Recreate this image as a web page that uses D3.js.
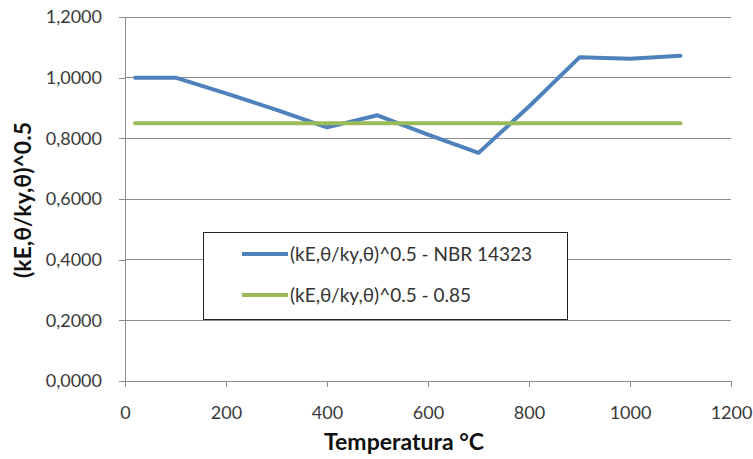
<!DOCTYPE html>
<html><head><meta charset="utf-8">
<script src="https://cdn.jsdelivr.net/npm/d3@7"></script>
<style>body{margin:0;background:#fff}svg{display:block}</style>
</head><body><svg id="c" width="753" height="459"></svg>
<script>
const temps = [20, 100, 200, 300, 400, 500, 600, 700, 800, 900, 1000, 1100];
const nbrValues = [1.0, 1.0, 0.948, 0.894, 0.836, 0.876, 0.812, 0.752, 0.905, 1.067, 1.062, 1.072];
const constValues = [0.85, 0.85, 0.85, 0.85, 0.85, 0.85, 0.85, 0.85, 0.85, 0.85, 0.85, 0.85];
const seriesNames = ["(kE,θ/ky,θ)^0.5 - NBR 14323", "(kE,θ/ky,θ)^0.5 - 0.85"];
const xTicks = [0, 200, 400, 600, 800, 1000, 1200];
const yTicks = [0, 0.2, 0.4, 0.6, 0.8, 1.0, 1.2];
const colors = ["#4F81BD", "#9BBB59"];

const svg = d3.select("#c");
const font = "Lato, 'Open Sans', sans-serif";
const x = d3.scaleLinear().domain([0, 1200]).range([125, 731]);
const y = d3.scaleLinear().domain([0, 1.2]).range([381, 17]);
const fmt = v => d3.format(".4f")(v).replace(".", ",");

// gridlines
svg.append("g").selectAll("line").data(yTicks.filter(d => d > 0)).join("line")
  .attr("x1", x(0)).attr("x2", x(1200)).attr("y1", d => y(d)).attr("y2", d => y(d))
  .attr("stroke", "#8c8c8c").attr("stroke-width", 1).attr("shape-rendering", "crispEdges");

const gy = svg.append("g").attr("transform", `translate(${x(0)},0)`)
  .call(d3.axisLeft(y).tickValues(yTicks).tickFormat(fmt).tickSize(6).tickPadding(17));
const gx = svg.append("g").attr("transform", `translate(0,${y(0)})`)
  .call(d3.axisBottom(x).tickValues(xTicks).tickFormat(d3.format("d")).tickSize(6).tickPadding(19));
[gx, gy].forEach(g => {
  g.selectAll("path,line").attr("stroke", "#8c8c8c").attr("shape-rendering", "crispEdges");
  g.selectAll("text").attr("fill", "#3a3a3a").style("font-family", font).style("font-size", "18px");
});
gy.select(".domain").attr("d", `M-6,${y(1.2)}H0V${y(0)}H-6`);
gx.select(".domain").attr("d", `M${x(0)},6V0H${x(1200)}V6`);

const line = d3.line().x((d, i) => x(temps[i])).y(d => y(d));
[nbrValues, constValues].forEach((vals, i) => {
  svg.append("path").datum(vals).attr("d", line).attr("fill", "none")
    .attr("stroke", colors[i]).attr("stroke-width", 4).attr("stroke-linejoin", "round").attr("stroke-linecap", "round");
});

// axis titles
svg.append("text").attr("x", 404).attr("y", 450).attr("text-anchor", "middle")
  .style("font-family", font).style("font-weight", "bold").style("font-size", "23px").attr("fill", "#111")
  .text("Temperatura °C");
svg.append("text").attr("transform", `translate(31,200) rotate(-90)`).attr("text-anchor", "middle")
  .style("font-family", font).style("font-weight", "bold").style("font-size", "23px").attr("fill", "#111")
  .text("(kE,θ/ky,θ)^0.5");

// legend
const lg = svg.append("g");
lg.append("rect").attr("x", 203.5).attr("y", 232.5).attr("width", 364).attr("height", 87)
  .attr("fill", "#fff").attr("stroke", "#222").attr("stroke-width", 1);
seriesNames.forEach((n, i) => {
  const yy = 254 + i * 41;
  lg.append("line").attr("x1", 242).attr("x2", 288).attr("y1", yy).attr("y2", yy)
    .attr("stroke", colors[i]).attr("stroke-width", 4);
  lg.append("text").attr("x", 290).attr("y", yy + 7).style("font-family", font).style("font-size", "19px")
    .attr("fill", "#333").text(n);
});
</script></body></html>
